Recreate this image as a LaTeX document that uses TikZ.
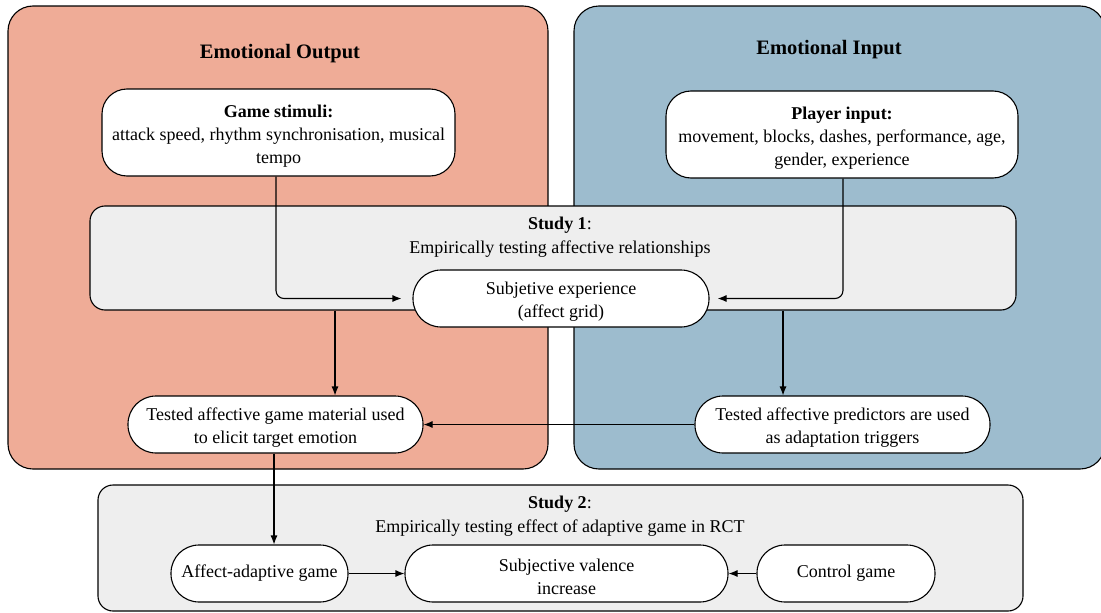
\documentclass[tikz,border=0pt]{standalone}
\usepackage{fontspec}
\setmainfont{Liberation Serif}
\usetikzlibrary{arrows.meta}
\definecolor{outred}{RGB}{239,172,151}
\definecolor{inblue}{RGB}{157,188,206}
\definecolor{studygrey}{RGB}{238,238,238}

% invisible strut that lowers the text block a little inside its box
\newcommand{\lowerstrut}{\rule{0pt}{19pt}}

\tikzset{
  panel/.style={draw=black, line width=1.1pt, rounded corners=25pt, inner sep=0pt},
  studybox/.style={draw=black, line width=1.1pt, fill=studygrey, rounded corners=15pt, inner sep=0pt},
  infobox/.style={draw=black, line width=1.1pt, fill=white, rounded corners=25pt,
    align=center, inner sep=0pt, font=\fontsize{18}{23}\selectfont},
  pill/.style={draw=black, line width=1.1pt, fill=white, rounded corners=28pt,
    align=center, inner sep=0pt, minimum height=57pt, font=\fontsize{18}{22.5}\selectfont},
  heading/.style={font=\fontsize{20.5}{24}\selectfont\bfseries},
  studylabel/.style={align=center, font=\fontsize{18}{24.5}\selectfont},
  arr/.style={draw=black, line width=1.1pt, -{Latex[length=9pt,width=7pt]}}
}

\begin{document}
\begin{tikzpicture}[x=1pt,y=-1pt]
\useasboundingbox (0,0) rectangle (1101,613);

% outer panels
\node[panel, fill=outred, minimum width=540pt, minimum height=463pt] (outpanel) at (278,237.5) {};
\node[panel, fill=inblue, minimum width=531pt, minimum height=463pt] (inpanel) at (839.5,237.5) {};
\node[heading] (outtitle) at (280,54) {Emotional Output};
\node[heading] (intitle) at (829,50) {Emotional Input};

% study frames
\node[studybox, minimum width=926pt, minimum height=104pt] (study1) at (553,258) {};
\node[studylabel] (s1label) at (560,237) {\textbf{Study 1}:\\Empirically testing affective relationships};
\node[studybox, minimum width=925pt, minimum height=126pt] (study2) at (560.5,548) {};
\node[studylabel] (s2label) at (560,516) {\textbf{Study 2}:\\Empirically testing effect of adaptive game in RCT};

% input boxes
\node[infobox, minimum width=353pt, minimum height=87pt] (stim) at (278.5,132.5)
  {\lowerstrut\textbf{Game stimuli:}\\attack speed, rhythm synchronisation, musical\\tempo};
\node[infobox, minimum width=352pt, minimum height=87pt] (player) at (842,134.5)
  {\lowerstrut\textbf{Player input:}\\movement, blocks, dashes, performance, age,\\gender, experience};

% process nodes
\node[pill, minimum width=296pt] (subj) at (561,298.5) {\lowerstrut Subjetive experience\\(affect grid)};
\node[pill, minimum width=295pt] (material) at (275.5,424.5) {\lowerstrut Tested affective game material used\\to elicit target emotion};
\node[pill, minimum width=295pt] (predict) at (842.5,424.5) {\lowerstrut Tested affective predictors are used\\as adaptation triggers};
\node[pill, minimum width=177pt] (adaptive) at (259.5,573.5) {Affect-adaptive game};
\node[pill, minimum width=323pt] (valence) at (566.5,573.5) {\lowerstrut Subjective valence\\increase};
\node[pill, minimum width=178pt] (control) at (846,573.5) {Control game};

% helper columns for vertical connectors
\coordinate (colL) at (335,0);
\coordinate (colR) at (783,0);
\coordinate (colS) at (276,0);
\coordinate (colP) at (843,0);
\coordinate (colM) at (274,0);

% connectors
\draw[arr, rounded corners=8pt, shorten >=11pt] (stim.south -| colS) |- (subj.west);
\draw[arr, rounded corners=8pt, shorten >=8pt] (player.south -| colP) |- (subj.east);
\draw[arr] (study1.south -| colL) -- (material.north -| colL);
\draw[arr] (study1.south -| colR) -- (predict.north -| colR);
\draw[arr] (predict.west) -- (material.east);
\draw[arr] (material.south -| colM) -- (adaptive.north -| colM);
\draw[arr] (adaptive.east) -- (valence.west);
\draw[arr] (control.west) -- (valence.east);
\end{tikzpicture}
\end{document}
